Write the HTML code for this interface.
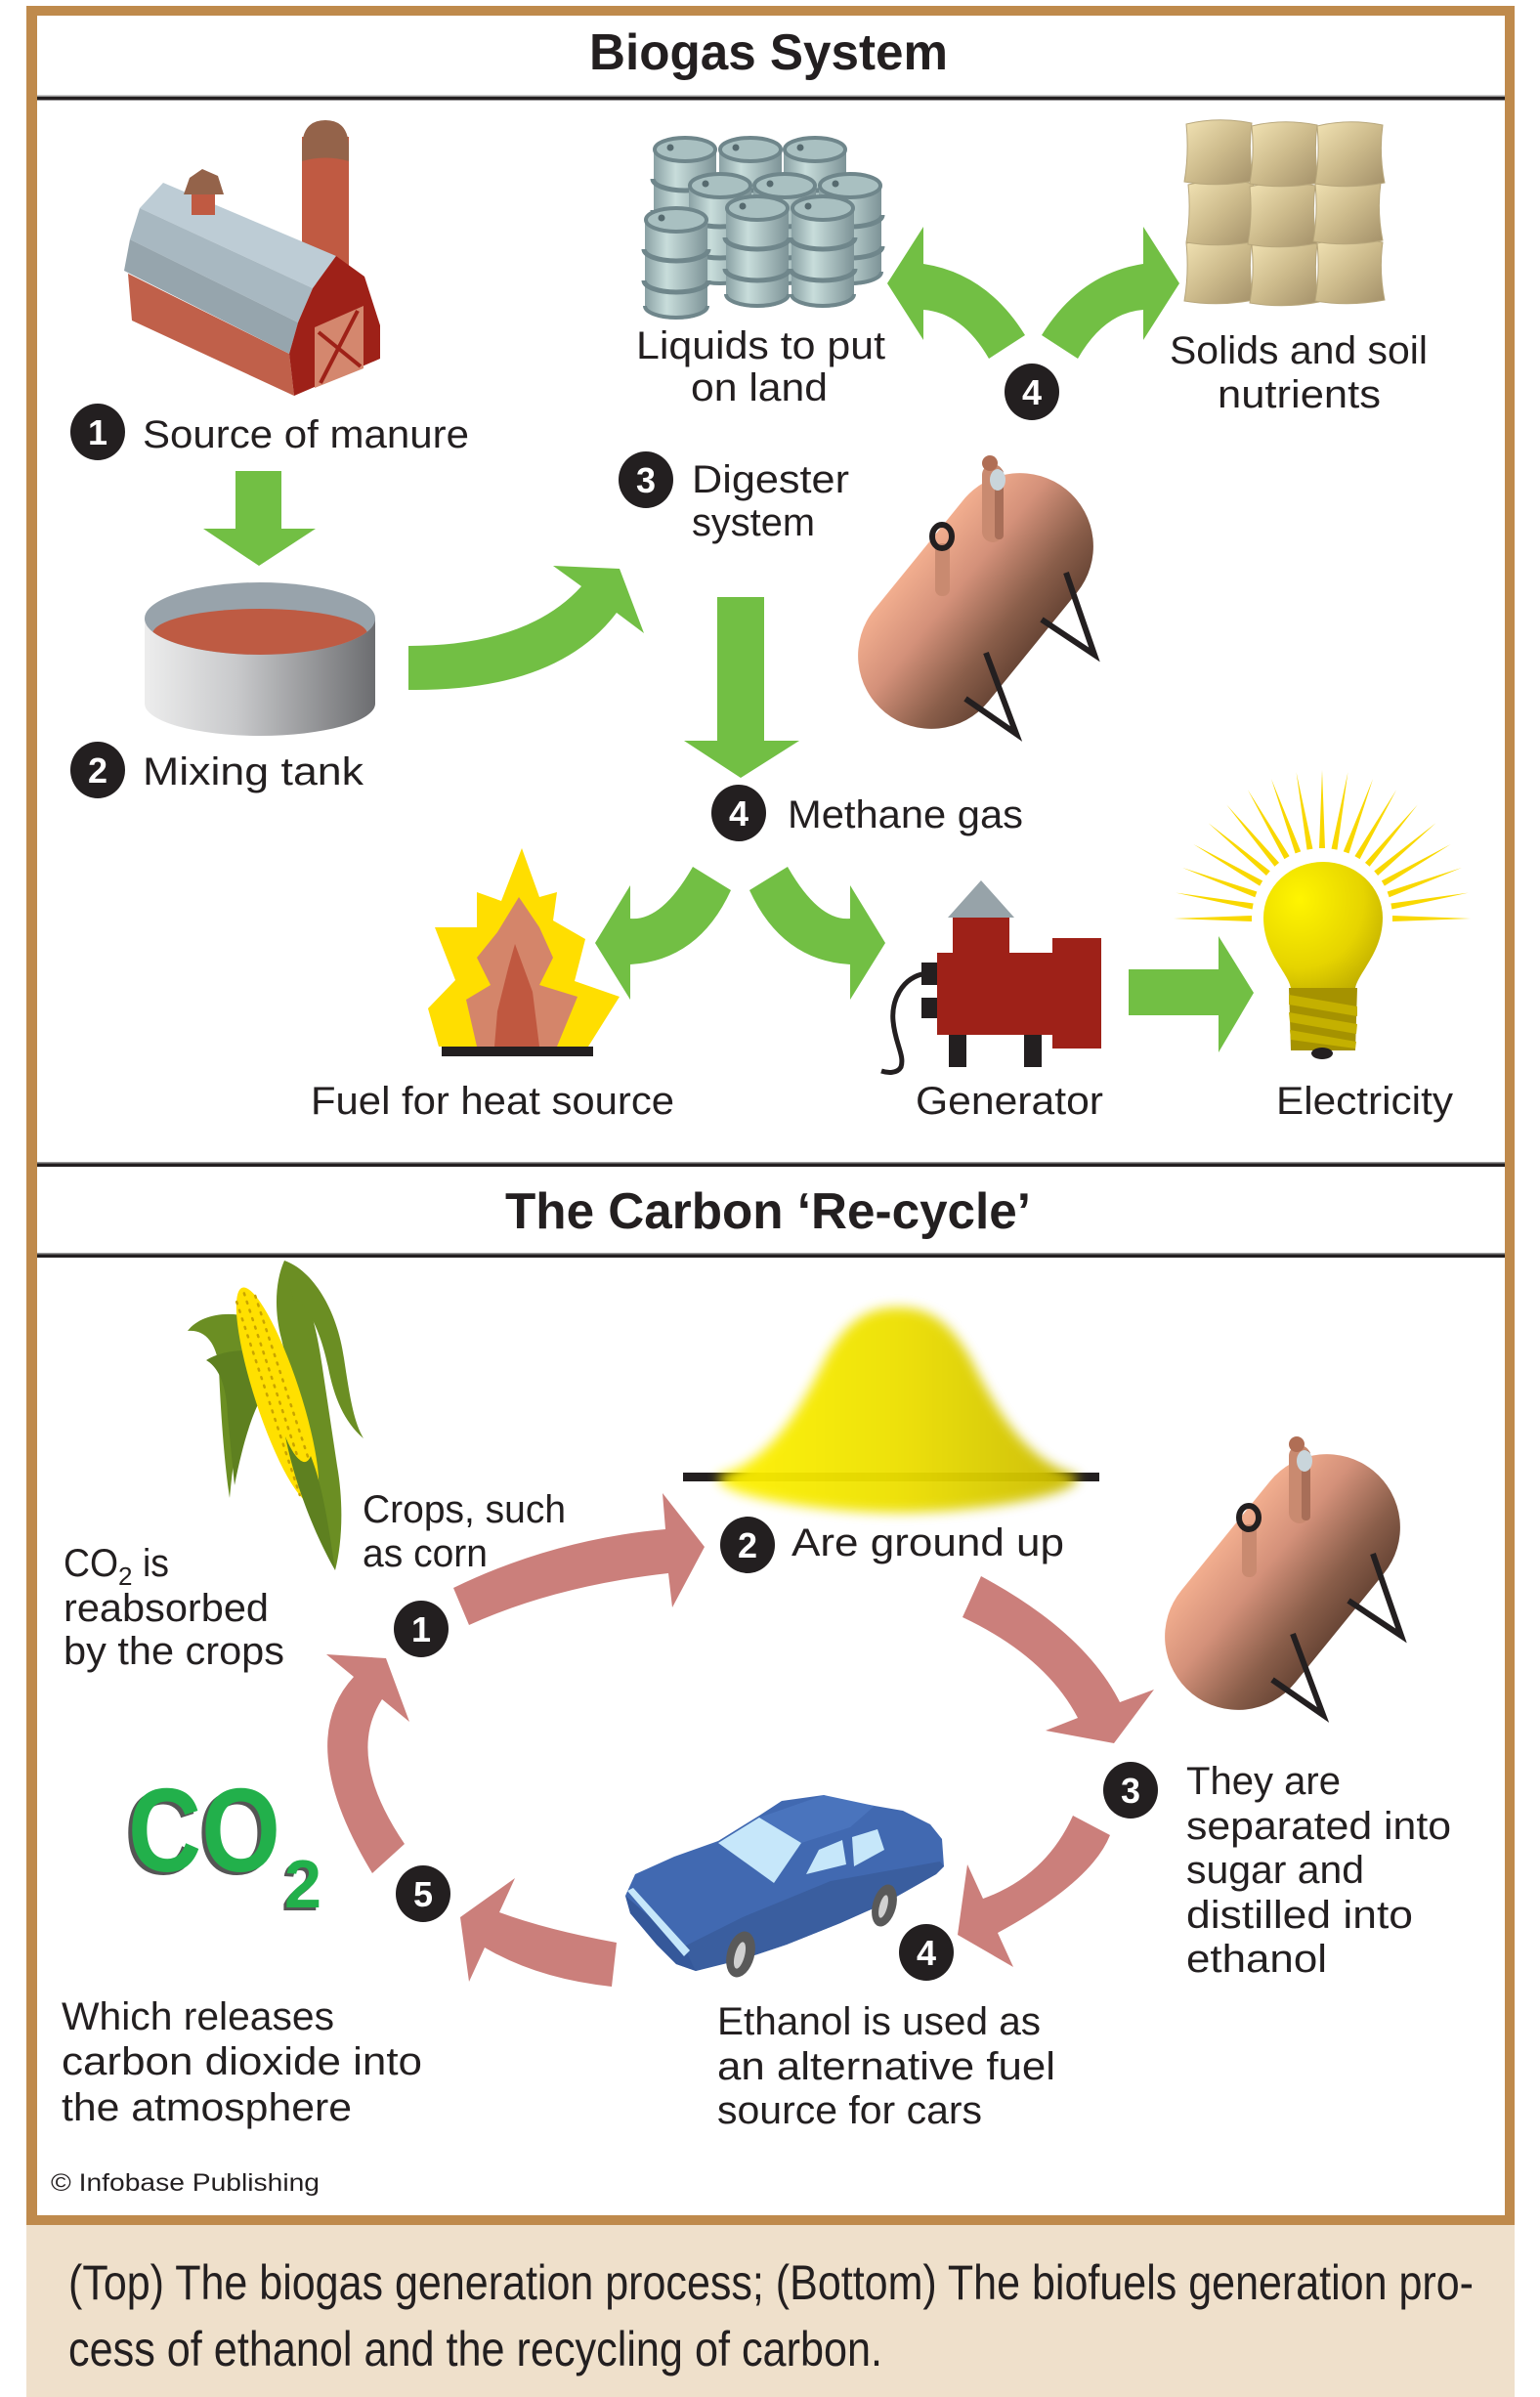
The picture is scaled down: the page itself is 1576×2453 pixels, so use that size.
<!DOCTYPE html>
<html>
<head>
<meta charset="utf-8">
<style>
html,body{margin:0;padding:0;background:#fff;}
svg{display:block;}
text{font-family:"Liberation Sans", sans-serif;fill:#231F20;}
.lb{font-size:40px;}
.num{font-size:36px;font-weight:bold;fill:#fff;}
</style>
</head>
<body>
<svg width="1576" height="2453" viewBox="0 0 1576 2453" xmlns="http://www.w3.org/2000/svg" xmlns:xlink="http://www.w3.org/1999/xlink">
<defs>
  <linearGradient id="tankG" x1="0" y1="0" x2="0" y2="1">
    <stop offset="0" stop-color="#F2AE8F"/>
    <stop offset="0.35" stop-color="#D4917A"/>
    <stop offset="0.75" stop-color="#8A5E4A"/>
    <stop offset="1" stop-color="#694636"/>
  </linearGradient>
  <linearGradient id="mixG" x1="0" y1="0" x2="1" y2="0">
    <stop offset="0" stop-color="#EDEDED"/>
    <stop offset="0.4" stop-color="#C8C9CB"/>
    <stop offset="1" stop-color="#6C6D70"/>
  </linearGradient>
  <linearGradient id="barG" x1="0" y1="0" x2="1" y2="0">
    <stop offset="0" stop-color="#8AA1A4"/>
    <stop offset="0.35" stop-color="#C8DDDB"/>
    <stop offset="1" stop-color="#7D9397"/>
  </linearGradient>
  <linearGradient id="sackG" x1="0" y1="0" x2="1" y2="1">
    <stop offset="0" stop-color="#F2E3B4"/>
    <stop offset="0.5" stop-color="#CDBB8C"/>
    <stop offset="1" stop-color="#A39069"/>
  </linearGradient>
  <linearGradient id="pileG" x1="0" y1="0" x2="1" y2="0">
    <stop offset="0" stop-color="#FFF200"/>
    <stop offset="0.5" stop-color="#EDE000"/>
    <stop offset="1" stop-color="#C9BA00"/>
  </linearGradient>
  <radialGradient id="bulbG" cx="0.3" cy="0.3" r="0.9">
    <stop offset="0" stop-color="#FFF500"/>
    <stop offset="0.6" stop-color="#E6D400"/>
    <stop offset="1" stop-color="#B7A500"/>
  </radialGradient>
  <filter id="blur" x="-20%" y="-20%" width="140%" height="140%">
    <feGaussianBlur stdDeviation="6"/>
  </filter>
  <clipPath id="mixClip"><ellipse cx="266" cy="633" rx="118" ry="37"/></clipPath>

  <g id="barrel">
    <path d="M-32,0 L-32,90 A32,12 0 0 0 32,90 L32,0 Z" fill="url(#barG)"/>
    <path d="M-33,30 A33,12 0 0 0 33,30" fill="none" stroke="#6F868B" stroke-width="5"/>
    <path d="M-33,62 A33,12 0 0 0 33,62" fill="none" stroke="#6F868B" stroke-width="5"/>
    <path d="M-32,88 A32,12 0 0 0 32,88" fill="none" stroke="#6F868B" stroke-width="4"/>
    <ellipse cx="0" cy="0" rx="31" ry="12" fill="#A9C0C1" stroke="#6F868B" stroke-width="4"/>
    <circle cx="-15" cy="-2" r="3.5" fill="#566A6F"/>
  </g>

  <path id="sack" d="M3,5 Q35,-3 70,4 Q66,33 72,63 Q36,70 1,64 Q6,34 3,5 Z" fill="url(#sackG)" stroke="#B8A77C" stroke-width="1"/>

  <polygon id="ray" points="72,-3 152,0 72,3" fill="#F9D800"/>

  <g id="dig">
    <rect x="-147" y="-75" width="294" height="150" rx="75" ry="75" fill="url(#tankG)" transform="translate(998.5,615) rotate(-50.9)"/>
    <rect x="1005" y="475" width="22" height="80" rx="11" fill="#C98A70"/>
    <rect x="1018" y="480" width="9" height="72" rx="4" fill="#A86E58"/>
    <circle cx="1013" cy="474" r="8" fill="#B06E55"/>
    <ellipse cx="1021" cy="491" rx="8" ry="11" fill="#C9D5DB"/>
    <rect x="957" y="556" width="15" height="54" rx="7" fill="#C98A70"/>
    <ellipse cx="964" cy="549" rx="10" ry="12" fill="none" stroke="#231F20" stroke-width="6"/>
    <polyline points="1091,586 1120,670 1066,634" fill="none" stroke="#231F20" stroke-width="6" stroke-linejoin="miter"/>
    <polyline points="1009,668 1040,751 988,715" fill="none" stroke="#231F20" stroke-width="6" stroke-linejoin="miter"/>
  </g>
</defs>

<!-- frame -->
<rect x="0" y="0" width="1576" height="2453" fill="#fff"/>
<rect x="27" y="6" width="1523" height="2271" fill="#BF8A4C"/>
<rect x="38" y="16" width="1502" height="2251" fill="#fff"/>
<rect x="27" y="2277" width="1523" height="176" fill="#EFE0CB"/>

<!-- separator lines -->
<rect x="38" y="97.5" width="1502" height="1.5" fill="#9A9A9A"/>
<rect x="38" y="99" width="1502" height="3.5" fill="#231F20"/>
<rect x="38" y="1189" width="1502" height="1.5" fill="#9A9A9A"/>
<rect x="38" y="1190.5" width="1502" height="3.5" fill="#231F20"/>
<rect x="38" y="1282" width="1502" height="1.5" fill="#9A9A9A"/>
<rect x="38" y="1283.5" width="1502" height="3.5" fill="#231F20"/>

<!-- titles -->
<text x="603" y="71" font-size="52" font-weight="bold" textLength="367" lengthAdjust="spacingAndGlyphs">Biogas System</text>
<text x="517" y="1257" font-size="52" font-weight="bold" textLength="538" lengthAdjust="spacingAndGlyphs">The Carbon ‘Re-cycle’</text>

<!-- ============ BIOGAS ============ -->
<!-- Barn -->
<rect x="309" y="140" width="48" height="150" fill="#C05A42"/>
<path d="M309,152 Q309,123 333,123 Q357,123 357,152 L357,165 Q333,158 309,165 Z" fill="#94634A"/>
<polygon points="131,280 296,362 301,405 135,328" fill="#C0604A"/>
<polygon points="167,187 344,262 320,295 143,213" fill="#BDCCD5"/>
<polygon points="143,213 320,295 305,330 133,245" fill="#A8B8C1"/>
<polygon points="133,245 305,330 296,362 127,277" fill="#96A5AD"/>
<polygon points="344,262 373,283 389,333 389,367 301,405 296,362 305,330 320,295" fill="#9E2118"/>
<polygon points="322,335 372,313 372,377 322,397" fill="#D4876E"/>
<line x1="326" y1="340" x2="369" y2="375" stroke="#9E2118" stroke-width="4"/>
<line x1="328" y1="392" x2="366" y2="318" stroke="#9E2118" stroke-width="4"/>
<rect x="196" y="195" width="24" height="25" fill="#C05A42"/>
<polygon points="188,199 194,182 207,173 223,180 229,199" fill="#94634A"/>

<!-- number 1 top -->
<ellipse cx="100" cy="442" rx="28" ry="29" fill="#231F20"/>
<text class="num" x="100" y="455" text-anchor="middle">1</text>
<text class="lb" x="146" y="458" textLength="334" lengthAdjust="spacingAndGlyphs">Source of manure</text>

<!-- down arrow barn->tank -->
<polygon points="241,482 288,482 288,541 323,541 265,579 208,541 241,541" fill="#72BF44"/>

<!-- mixing tank -->
<path d="M148,633 L148,720 A118,33 0 0 0 384,720 L384,633 Z" fill="url(#mixG)"/>
<ellipse cx="266" cy="633" rx="118" ry="37" fill="#98A3AB"/>
<ellipse cx="266" cy="649" rx="110" ry="26" fill="#BE5B43" clip-path="url(#mixClip)"/>

<ellipse cx="100" cy="788" rx="28" ry="29" fill="#231F20"/>
<text class="num" x="100" y="801" text-anchor="middle">2</text>
<text class="lb" x="146" y="803" textLength="226" lengthAdjust="spacingAndGlyphs">Mixing tank</text>

<!-- curved arrow tank -> digester -->
<path d="M418,661 Q540,661 595,600 L566,579 L634,582 L659,648 L631,627 Q570,708 418,706 Z" fill="#72BF44"/>

<!-- barrels -->
<use xlink:href="#barrel" href="#barrel" x="701" y="153"/>
<use xlink:href="#barrel" href="#barrel" x="768" y="153"/>
<use xlink:href="#barrel" href="#barrel" x="834" y="153"/>
<use xlink:href="#barrel" href="#barrel" x="737" y="190"/>
<use xlink:href="#barrel" href="#barrel" x="803" y="190"/>
<use xlink:href="#barrel" href="#barrel" x="870" y="190"/>
<use xlink:href="#barrel" href="#barrel" x="692" y="225"/>
<use xlink:href="#barrel" href="#barrel" x="775" y="213"/>
<use xlink:href="#barrel" href="#barrel" x="842" y="213"/>

<text class="lb" x="651" y="367" textLength="255" lengthAdjust="spacingAndGlyphs">Liquids to put</text>
<text class="lb" x="707" y="410" textLength="140" lengthAdjust="spacingAndGlyphs">on land</text>

<!-- sacks -->
<use xlink:href="#sack" href="#sack" x="1211" y="244"/>
<use xlink:href="#sack" href="#sack" x="1278" y="246"/>
<use xlink:href="#sack" href="#sack" x="1345" y="244"/>
<use xlink:href="#sack" href="#sack" x="1213" y="184"/>
<use xlink:href="#sack" href="#sack" x="1276" y="186"/>
<use xlink:href="#sack" href="#sack" x="1343" y="183"/>
<use xlink:href="#sack" href="#sack" x="1211" y="122"/>
<use xlink:href="#sack" href="#sack" x="1278" y="124"/>
<use xlink:href="#sack" href="#sack" x="1345" y="124"/>

<text class="lb" x="1197" y="372" textLength="264" lengthAdjust="spacingAndGlyphs">Solids and soil</text>
<text class="lb" x="1246" y="417" textLength="167" lengthAdjust="spacingAndGlyphs">nutrients</text>

<!-- green arrows up from 4 -->
<path d="M945,270 Q1010,280 1049,343 L1012,367 Q985,320 945,317 L945,348 L908,290 L945,232 Z" fill="#72BF44"/>
<path d="M1170,270 Q1105,280 1066,343 L1103,367 Q1130,320 1170,317 L1170,348 L1207,290 L1170,232 Z" fill="#72BF44"/>
<ellipse cx="1056" cy="401" rx="28" ry="29" fill="#231F20"/>
<text class="num" x="1056" y="414" text-anchor="middle">4</text>

<!-- digester -->
<ellipse cx="661" cy="491" rx="28" ry="29" fill="#231F20"/>
<text class="num" x="661" y="504" text-anchor="middle">3</text>
<text class="lb" x="708" y="504" textLength="161" lengthAdjust="spacingAndGlyphs">Digester</text>
<text class="lb" x="708" y="548" textLength="126" lengthAdjust="spacingAndGlyphs">system</text>
<use xlink:href="#dig" href="#dig"/>

<!-- down arrow digester -> methane -->
<polygon points="734,611 782,611 782,758 818,758 758,796 700,758 734,758" fill="#72BF44"/>

<ellipse cx="756" cy="832" rx="28" ry="29" fill="#231F20"/>
<text class="num" x="756" y="845" text-anchor="middle">4</text>
<text class="lb" x="806" y="847" textLength="241" lengthAdjust="spacingAndGlyphs">Methane gas</text>

<!-- methane arrows -->
<path d="M709,887 L748,911 Q715,983 645,987 L645,1023 L609,965 L645,906 L645,940 Q677,943 709,887 Z" fill="#72BF44"/>
<path d="M806,887 L767,911 Q800,983 870,987 L870,1023 L906,965 L870,906 L870,940 Q838,943 806,887 Z" fill="#72BF44"/>

<!-- fire -->
<polygon points="534,868 552,918 570,913 566,942 599,961 588,1004 634,1020 602,1071 449,1071 438,1032 466,1003 445,949 488,949 488,913 513,922" fill="#FFDE00"/>
<polygon points="531,918 552,949 566,980 552,1008 591,1020 570,1071 488,1071 477,1023 502,1008 488,980 509,954" fill="#D4856A"/>
<polygon points="527,966 545,1015 552,1071 506,1071 509,1035 520,991" fill="#C05840"/>
<rect x="452" y="1071" width="155" height="10" fill="#231F20"/>

<!-- generator -->
<polygon points="1004,901 1038,939 970,939" fill="#97A3A9"/>
<rect x="975" y="939" width="58" height="37" fill="#9E2118"/>
<rect x="959" y="975" width="118" height="84" fill="#9E2118"/>
<rect x="1077" y="960" width="50" height="113" fill="#9E2118"/>
<rect x="943" y="985" width="16" height="23" fill="#231F20"/>
<rect x="943" y="1021" width="16" height="21" fill="#231F20"/>
<rect x="971" y="1059" width="18" height="33" fill="#231F20"/>
<rect x="1048" y="1059" width="18" height="33" fill="#231F20"/>
<path d="M948,996 C922,1000 912,1025 914,1045 C916,1068 926,1080 922,1092 C918,1099 908,1098 902,1096" fill="none" stroke="#231F20" stroke-width="5"/>

<!-- arrow to bulb -->
<polygon points="1155,992 1247,992 1247,958 1283,1016 1247,1077 1247,1039 1155,1039" fill="#72BF44"/>

<!-- bulb rays -->
<g transform="translate(1353,940)">
  <use xlink:href="#ray" href="#ray" transform="rotate(0)"/>
  <use xlink:href="#ray" href="#ray" transform="rotate(-10)"/>
  <use xlink:href="#ray" href="#ray" transform="rotate(-20)"/>
  <use xlink:href="#ray" href="#ray" transform="rotate(-30)"/>
  <use xlink:href="#ray" href="#ray" transform="rotate(-40)"/>
  <use xlink:href="#ray" href="#ray" transform="rotate(-50)"/>
  <use xlink:href="#ray" href="#ray" transform="rotate(-60)"/>
  <use xlink:href="#ray" href="#ray" transform="rotate(-70)"/>
  <use xlink:href="#ray" href="#ray" transform="rotate(-80)"/>
  <use xlink:href="#ray" href="#ray" transform="rotate(-90)"/>
  <use xlink:href="#ray" href="#ray" transform="rotate(-100)"/>
  <use xlink:href="#ray" href="#ray" transform="rotate(-110)"/>
  <use xlink:href="#ray" href="#ray" transform="rotate(-120)"/>
  <use xlink:href="#ray" href="#ray" transform="rotate(-130)"/>
  <use xlink:href="#ray" href="#ray" transform="rotate(-140)"/>
  <use xlink:href="#ray" href="#ray" transform="rotate(-150)"/>
  <use xlink:href="#ray" href="#ray" transform="rotate(-160)"/>
  <use xlink:href="#ray" href="#ray" transform="rotate(-170)"/>
  <use xlink:href="#ray" href="#ray" transform="rotate(-180)"/>
</g>
<!-- bulb -->
<path d="M1293,939 A61,57 0 0 1 1415,939 C1415,975 1390,995 1387,1011 L1321,1011 C1318,995 1293,975 1293,939 Z" fill="url(#bulbG)"/>
<path d="M1319,1011 L1389,1011 L1387,1075 L1321,1075 Z" fill="#A59200"/>
<path d="M1319,1018 L1389,1030 L1389,1040 L1319,1028 Z" fill="#C4B000"/>
<path d="M1319,1036 L1389,1048 L1388,1058 L1320,1046 Z" fill="#C4B000"/>
<path d="M1320,1054 L1388,1066 L1387,1073 L1321,1064 Z" fill="#C4B000"/>
<ellipse cx="1353" cy="1078" rx="11" ry="6" fill="#231F20"/>

<text class="lb" x="318" y="1140" textLength="372" lengthAdjust="spacingAndGlyphs">Fuel for heat source</text>
<text class="lb" x="937" y="1140" textLength="192" lengthAdjust="spacingAndGlyphs">Generator</text>
<text class="lb" x="1306" y="1140" textLength="181" lengthAdjust="spacingAndGlyphs">Electricity</text>

<!-- ============ CARBON RE-CYCLE ============ -->
<!-- corn -->
<path d="M291,1290 C282,1310 280,1340 288,1370 L325,1530 C330,1560 338,1590 343,1607 C350,1580 352,1540 345,1500 L330,1400 C322,1340 305,1300 291,1290 Z" fill="#6B8E23"/>
<path d="M262,1350 C235,1340 205,1345 192,1362 C210,1360 222,1375 224,1400 C226,1450 230,1500 235,1533 C240,1480 250,1420 268,1390 Z" fill="#6B8E23"/>
<path d="M272,1385 C245,1378 222,1385 211,1392 C225,1400 232,1420 233,1450 L240,1520 C250,1470 262,1430 282,1410 Z" fill="#5E8020"/>
<g transform="translate(284,1428) rotate(71.9)">
  <ellipse cx="0" cy="0" rx="116" ry="23" fill="#FFE000"/>
  <line x1="-104" y1="-10" x2="104" y2="-10" stroke="#C9A400" stroke-width="2.5" stroke-dasharray="2 7" stroke-linecap="round"/>
  <line x1="-110" y1="0" x2="110" y2="0" stroke="#C9A400" stroke-width="2.5" stroke-dasharray="2 7" stroke-linecap="round"/>
  <line x1="-104" y1="10" x2="104" y2="10" stroke="#C9A400" stroke-width="2.5" stroke-dasharray="2 7" stroke-linecap="round"/>
</g>
<path d="M291,1290 C320,1300 345,1340 352,1390 C358,1430 362,1455 372,1472 C352,1455 342,1430 336,1400 C328,1360 312,1330 300,1330 Z" fill="#6B8E23"/>
<path d="M292,1470 C302,1520 322,1570 343,1607 C336,1560 330,1520 318,1490 C312,1505 300,1490 292,1470 Z" fill="#5E8020"/>

<!-- pile -->
<rect x="699" y="1507" width="426" height="9" fill="#231F20"/>
<path d="M735,1510 C790,1495 820,1440 845,1390 C870,1345 895,1338 919,1338 C943,1338 968,1345 993,1390 C1018,1440 1048,1495 1103,1510 C1110,1530 1000,1548 919,1548 C838,1548 728,1530 735,1510 Z" fill="url(#pileG)" filter="url(#blur)" opacity="0.95"/>

<text class="lb" x="371" y="1558" textLength="208" lengthAdjust="spacingAndGlyphs">Crops, such</text>
<text class="lb" x="371" y="1603" textLength="128" lengthAdjust="spacingAndGlyphs">as corn</text>

<ellipse cx="765" cy="1581" rx="28" ry="29" fill="#231F20"/>
<text class="num" x="765" y="1594" text-anchor="middle">2</text>
<text class="lb" x="810" y="1592" textLength="279" lengthAdjust="spacingAndGlyphs">Are ground up</text>

<text class="lb" x="65" y="1613" textLength="56" lengthAdjust="spacingAndGlyphs">CO</text>
<text x="121" y="1622" font-size="26">2</text>
<text class="lb" x="146" y="1613" textLength="27" lengthAdjust="spacingAndGlyphs">is</text>
<text class="lb" x="65" y="1659" textLength="210" lengthAdjust="spacingAndGlyphs">reabsorbed</text>
<text class="lb" x="65" y="1703" textLength="226" lengthAdjust="spacingAndGlyphs">by the crops</text>

<!-- pink arrows -->
<path d="M464,1625 Q567,1575 681,1565 L678,1528 L721,1583 L688,1645 L684,1610 Q568,1623 480,1663 Z" fill="#CB7F7B"/>
<path d="M1004,1613 Q1110,1670 1146,1742 L1181,1729 L1140,1784 L1070,1771 L1103,1758 Q1070,1695 985,1655 Z" fill="#CB7F7B"/>
<path d="M1098,1858 Q1070,1920 1006,1943 L990,1908 L980,1980 L1037,2013 L1021,1978 Q1117,1926 1136,1878 Z" fill="#CB7F7B"/>
<path d="M631,1988 Q560,1975 511,1957 L527,1922 L471,1962 L480,2028 L496,1993 Q550,2025 626,2033 Z" fill="#CB7F7B"/>
<path d="M381,1917 Q300,1783 362,1716 L334,1693 L395,1697 L419,1762 L391,1739 Q353,1797 414,1887 Z" fill="#CB7F7B"/>

<ellipse cx="431" cy="1667" rx="28" ry="29" fill="#231F20"/>
<text class="num" x="431" y="1680" text-anchor="middle">1</text>

<!-- bottom digester -->
<use xlink:href="#dig" href="#dig" transform="translate(314,1004)"/>

<ellipse cx="1157" cy="1832" rx="28" ry="29" fill="#231F20"/>
<text class="num" x="1157" y="1845" text-anchor="middle">3</text>
<text class="lb" x="1214" y="1836" textLength="158" lengthAdjust="spacingAndGlyphs">They are</text>
<text class="lb" x="1214" y="1882" textLength="271" lengthAdjust="spacingAndGlyphs">separated into</text>
<text class="lb" x="1214" y="1927" textLength="182" lengthAdjust="spacingAndGlyphs">sugar and</text>
<text class="lb" x="1214" y="1973" textLength="232" lengthAdjust="spacingAndGlyphs">distilled into</text>
<text class="lb" x="1214" y="2018" textLength="144" lengthAdjust="spacingAndGlyphs">ethanol</text>

<!-- CO2 big -->
<text x="127" y="1918" font-size="122" font-weight="bold" textLength="156" lengthAdjust="spacingAndGlyphs" style="fill:#555">CO</text>
<text x="131" y="1915" font-size="122" font-weight="bold" textLength="156" lengthAdjust="spacingAndGlyphs" style="fill:#22B04B">CO</text>
<text x="288" y="1955" font-size="70" font-weight="bold" textLength="38" lengthAdjust="spacingAndGlyphs" style="fill:#555">2</text>
<text x="291" y="1952" font-size="70" font-weight="bold" textLength="38" lengthAdjust="spacingAndGlyphs" style="fill:#22B04B">2</text>

<ellipse cx="433" cy="1938" rx="28" ry="29" fill="#231F20"/>
<text class="num" x="433" y="1951" text-anchor="middle">5</text>

<!-- car -->
<polygon points="640,1940 650,1918 690,1900 735,1884 777,1858 800,1843 843,1837 872,1846 895,1848 924,1853 952,1867 964,1882 966,1910 958,1918 905,1948 860,1968 805,1990 760,2005 712,2017 692,2010 672,1990 645,1958" fill="#4169B1"/>
<polygon points="712,2017 700,1992 760,1962 850,1925 962,1905 966,1910 958,1918 905,1948 860,1968 805,1990 760,2005" fill="#3A5E9F"/>
<polygon points="640,1940 700,1992 712,2017 692,2010 672,1990 645,1958" fill="#35589A"/>
<polygon points="777,1860 843,1837 895,1848 870,1870 820,1886" fill="#4A74BD"/>
<polygon points="735,1886 777,1860 820,1886 792,1927" fill="#C6E7FA"/>
<polygon points="825,1918 838,1893 862,1883 866,1908" fill="#C6E7FA"/>
<polygon points="872,1880 898,1872 905,1893 874,1910" fill="#C6E7FA"/>
<polygon points="642,1935 648,1932 706,1996 700,2002" fill="#C6E7FA"/>
<ellipse cx="758" cy="2000" rx="14" ry="24" transform="rotate(15 758 2000)" fill="#595959"/>
<ellipse cx="757" cy="2001" rx="5" ry="14" transform="rotate(15 757 2001)" fill="#D0D0D0"/>
<ellipse cx="905" cy="1950" rx="12" ry="22" transform="rotate(15 905 1950)" fill="#595959"/>
<ellipse cx="904" cy="1951" rx="4" ry="12" transform="rotate(15 904 1951)" fill="#D0D0D0"/>

<ellipse cx="948" cy="1998" rx="28" ry="29" fill="#231F20"/>
<text class="num" x="948" y="2011" text-anchor="middle">4</text>

<text class="lb" x="63" y="2077" textLength="279" lengthAdjust="spacingAndGlyphs">Which releases</text>
<text class="lb" x="63" y="2123" textLength="369" lengthAdjust="spacingAndGlyphs">carbon dioxide into</text>
<text class="lb" x="63" y="2170" textLength="297" lengthAdjust="spacingAndGlyphs">the atmosphere</text>

<text class="lb" x="734" y="2082" textLength="331" lengthAdjust="spacingAndGlyphs">Ethanol is used as</text>
<text class="lb" x="734" y="2128" textLength="346" lengthAdjust="spacingAndGlyphs">an alternative fuel</text>
<text class="lb" x="734" y="2173" textLength="271" lengthAdjust="spacingAndGlyphs">source for cars</text>

<text x="52" y="2242" font-size="25" textLength="275" lengthAdjust="spacingAndGlyphs">© Infobase Publishing</text>

<!-- caption -->
<text x="70" y="2353" font-size="50" textLength="1438" lengthAdjust="spacingAndGlyphs">(Top) The biogas generation process; (Bottom) The biofuels generation pro-</text>
<text x="70" y="2421" font-size="50" textLength="833" lengthAdjust="spacingAndGlyphs">cess of ethanol and the recycling of carbon.</text>
</svg>
</body>
</html>
